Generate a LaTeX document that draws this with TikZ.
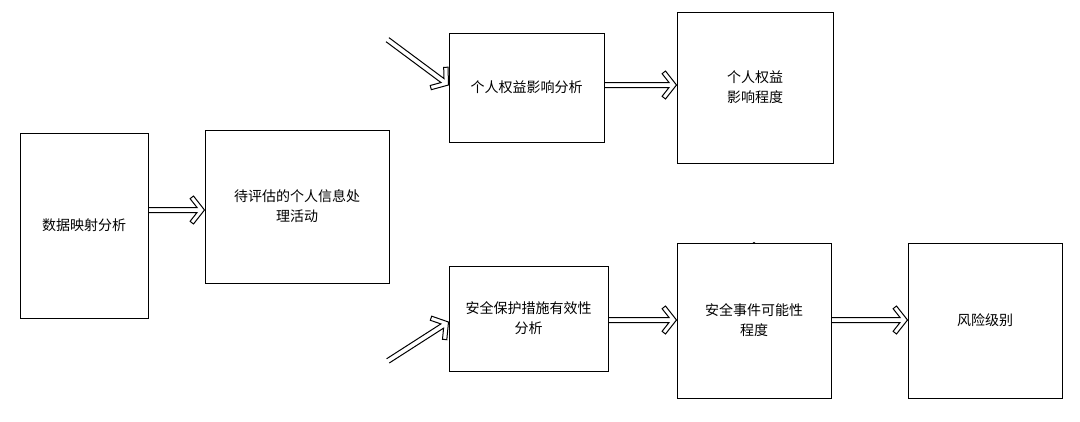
\documentclass[tikz,border=0pt]{standalone}
\usepackage{fontspec}
\setmainfont{Noto Sans CJK SC}
\usetikzlibrary{backgrounds}
\newcommand{\conn}[3]{%
 \begin{scope}[shift={(#1)},rotate=#2]
 \draw[arr] (-#3,-2.5) -- (-7.46,-2.5) -- (-14.4,-11.3) -- (-11,-14) -- (0,0) -- (-11,14) -- (-14.4,11.3) -- (-7.46,2.5) -- (-#3,2.5);
 \end{scope}}
\begin{document}
\begin{tikzpicture}[x=1pt,y=-1pt,
 box/.style={draw,line width=1pt,inner sep=0pt,align=center,fill=white,font=\fontsize{14}{20}\selectfont},
 arr/.style={line width=1pt,fill=white,line join=miter}]
\useasboundingbox (0,0) rectangle (1080,421);
\node[box,minimum width=128,minimum height=185] (b1) at (84,225.5) {数据映射分析};
\node[box,minimum width=184,minimum height=153] (b2) at (297,206.5) {待评估的个人信息处\\理活动};
\node[box,minimum width=155,minimum height=109] (b3) at (526.5,87.5) {个人权益影响分析};
\node[box,minimum width=156,minimum height=151] (b4) at (755,87.5) {个人权益\\影响程度};
\node[box,minimum width=159,minimum height=105] (b5) at (528.5,318.5) {安全保护措施有效性\\分析};
\node[box,minimum width=154,minimum height=155] (b6) at (754,320.5) {安全事件可能性\\程度};
\node[box,minimum width=154,minimum height=155] (b7) at (985,320.5) {风险级别};
\begin{scope}[on background layer]
\conn{b2.west |- 0,210}{0}{58}
\conn{b3.west |- 0,85}{-36.6}{76}
\conn{b5.west |- 0,322}{32.7}{72}
\conn{b4.west |- 0,85}{0}{74}
\conn{b6.north}{90}{81}
\conn{b6.west |- 0,320}{0}{70}
\conn{b7.west |- 0,320}{0}{78}
\end{scope}
\end{tikzpicture}
\end{document}
